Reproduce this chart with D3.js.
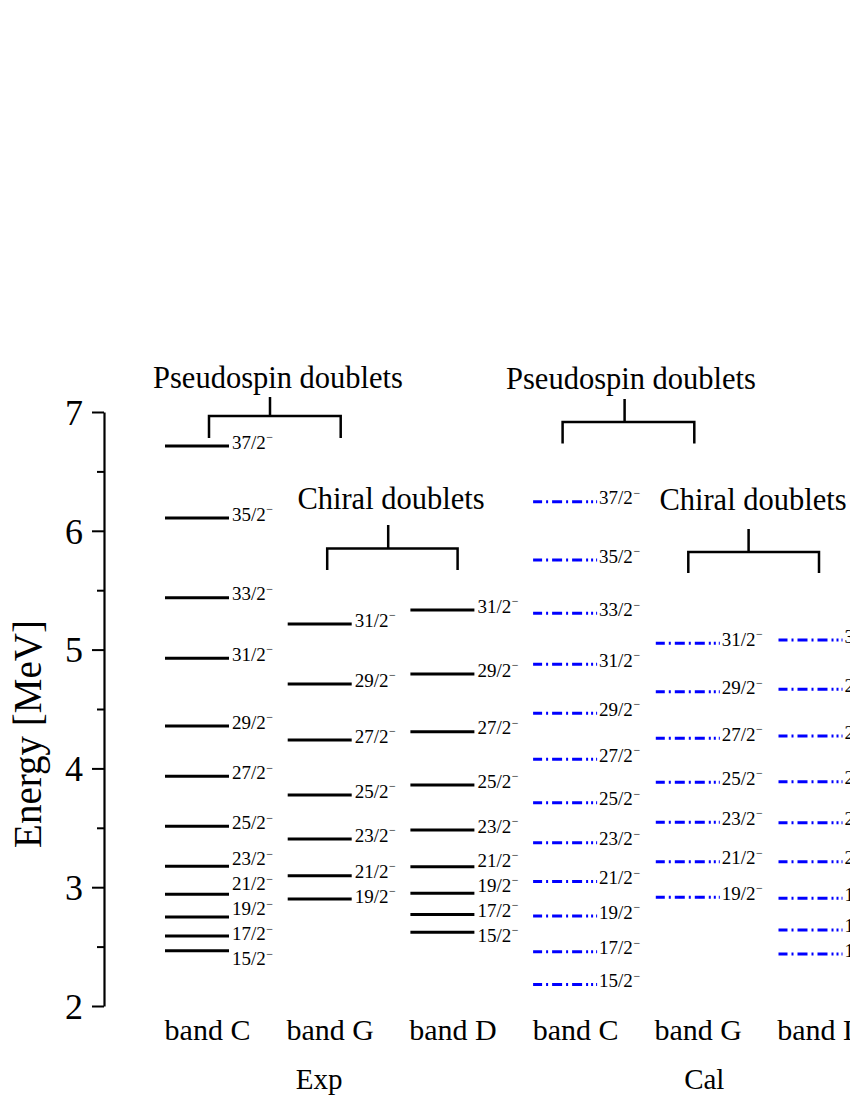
<!DOCTYPE html>
<html>
<head>
<meta charset="utf-8">
<script src="https://cdn.jsdelivr.net/npm/d3@7"></script>
<style>
  html, body { margin: 0; padding: 0; background: #fff; }
  svg { display: block; }
  text { font-family: "Liberation Serif", "Times New Roman", serif; fill: #000; }
</style>
</head>
<body>
<svg id="chart" width="850" height="1100"></svg>
<script>
// ---------------- data ----------------
const bands = ["expC", "expG", "expD", "calC", "calG", "calD"];
const bandNames = ["band C", "band G", "band D", "band C", "band G", "band D"];
const groupNames = ["Exp", "Cal"];

const spinsC = ["15/2","17/2","19/2","21/2","23/2","25/2","27/2","29/2","31/2","33/2","35/2","37/2"];
const spinsG = ["19/2","21/2","23/2","25/2","27/2","29/2","31/2"];
const spinsD = ["15/2","17/2","19/2","21/2","23/2","25/2","27/2","29/2","31/2"];

const expC = [2.466, 2.590, 2.750, 2.940, 3.176, 3.512, 3.933, 4.357, 4.927, 5.437, 6.108, 6.714];
const expG = [2.900, 3.097, 3.406, 3.776, 4.239, 4.710, 5.216];
const expD = [2.620, 2.770, 2.950, 3.172, 3.481, 3.860, 4.309, 4.795, 5.333];
const calC = [2.182, 2.457, 2.758, 3.047, 3.375, 3.711, 4.077, 4.464, 4.876, 5.305, 5.754, 6.245];
const calG = [2.915, 3.215, 3.546, 3.883, 4.253, 4.646, 5.053];
const calD = [2.438, 2.640, 2.906, 3.215, 3.543, 3.888, 4.273, 4.666, 5.081];

const yTicks = [2, 3, 4, 5, 6, 7];
const yMinorTicks = [2.5, 3.5, 4.5, 5.5, 6.5];
const yLabel = "Energy [MeV]";
const doubletPseudo = "Pseudospin doublets";
const doubletChiral = "Chiral doublets";

// ---------------- build ----------------
const series = [
  { band: "expC", spins: spinsC, values: expC, cal: false },
  { band: "expG", spins: spinsG, values: expG, cal: false },
  { band: "expD", spins: spinsD, values: expD, cal: false },
  { band: "calC", spins: spinsC, values: calC, cal: true },
  { band: "calG", spins: spinsG, values: calG, cal: true },
  { band: "calD", spins: spinsD, values: calD, cal: true }
];

const svg = d3.select("#chart");
const y = d3.scaleLinear().domain([2, 7]).range([1006, 412]);
const x = d3.scalePoint().domain(bands).range([196.5, 810]);
const halfW = 31.5;

// y axis
const axisX = 104;
const axisG = svg.append("g").attr("transform", `translate(${axisX},0)`);
axisG.call(d3.axisLeft(y).tickValues(yTicks).tickSize(12).tickSizeOuter(0).tickFormat(d3.format("d")));
axisG.select(".domain").attr("stroke", "#000").attr("stroke-width", 2.2);
axisG.selectAll(".tick line").attr("stroke", "#000").attr("stroke-width", 2);
axisG.selectAll(".tick text")
  .attr("font-family", "Liberation Serif, serif")
  .attr("font-size", 36)
  .attr("x", -21)
  .attr("dy", "0.34em")
  .attr("fill", "#000");
const minorG = svg.append("g").attr("transform", `translate(${axisX},0)`);
minorG.call(d3.axisLeft(y).tickValues(yMinorTicks).tickSize(7).tickSizeOuter(0).tickFormat(""));
minorG.select(".domain").remove();
minorG.selectAll(".tick line").attr("stroke", "#000").attr("stroke-width", 2);

svg.append("text")
  .attr("transform", `translate(41,734) rotate(-90)`)
  .attr("text-anchor", "middle")
  .attr("font-size", 39)
  .text(yLabel);

// levels
const calDash = "9,4,2,4,10,4,2,4,10,4,2,3,2,3,2,20";

function spreadLabels(desired, minGap) {
  let clusters = desired.map(d => ({ items: [d], mean: d.y }));
  let changed = true;
  while (changed) {
    changed = false;
    for (let i = 0; i < clusters.length - 1; i++) {
      const a = clusters[i], b = clusters[i + 1];
      const aBottom = a.mean + (a.items.length - 1) * minGap / 2;
      const bTop = b.mean - (b.items.length - 1) * minGap / 2;
      if (bTop - aBottom < minGap) {
        const items = a.items.concat(b.items);
        const mean = d3.mean(items, d => d.y);
        clusters.splice(i, 2, { items, mean });
        changed = true;
        break;
      }
    }
  }
  clusters.forEach(c => {
    const n = c.items.length;
    c.items.forEach((d, k) => { d.ly = c.mean + (k - (n - 1) / 2) * minGap; });
  });
}

series.forEach(s => {
  const cx = x(s.band);
  const g = svg.append("g");
  const levels = s.values.map((v, i) => ({ v, spin: s.spins[i], y: y(v) - 4 }));
  g.selectAll("line.level").data(levels).join("line")
    .attr("class", "level")
    .attr("x1", cx - halfW).attr("x2", cx + halfW + 1)
    .attr("y1", d => y(d.v)).attr("y2", d => y(d.v))
    .attr("stroke", s.cal ? "#0000ff" : "#000")
    .attr("stroke-width", 3)
    .attr("stroke-dasharray", s.cal ? calDash : null);

  const sorted = levels.slice().sort((a, b) => a.y - b.y);
  spreadLabels(sorted, 25);
  const t = g.selectAll("text.lab").data(levels).join("text")
    .attr("class", "lab")
    .attr("x", cx + halfW + (s.cal ? 3 : 4))
    .attr("y", d => d.ly)
    .attr("dy", "0.35em")
    .attr("font-size", 19);
  t.append("tspan").text(d => d.spin);
  t.append("tspan").attr("font-size", 12).attr("dy", -7.5).attr("dx", 0.5).text("\u2212");
});

// band names
svg.append("g").selectAll("text").data(bands).join("text")
  .attr("x", d => x(d) + 11)
  .attr("y", 1040)
  .attr("text-anchor", "middle")
  .attr("font-size", 30)
  .text((d, i) => bandNames[i]);

// group names
svg.append("text").attr("x", x("expG")).attr("y", 1089)
  .attr("text-anchor", "middle").attr("font-size", 29).text(groupNames[0]);
svg.append("text").attr("x", x("calG") + 17).attr("y", 1089)
  .attr("text-anchor", "middle").attr("font-size", 29).text(groupNames[1]);

// doublet brackets
const brackets = [
  { label: doubletPseudo, left: x("expC") + 12.5, right: x("expG") + 21.5, stem: x("expC") + 73.5, top: 397, bar: 416, leg: 438, tx: 278, ty: 388 },
  { label: doubletChiral, left: x("expG") + 8, right: x("expD") + 15.7, stem: x("expG") + 69, top: 525, bar: 548.5, leg: 570, tx: 391, ty: 509 },
  { label: doubletPseudo, left: x("calC") - 2, right: x("calG") + 7, stem: x("calC") + 60, top: 399, bar: 422, leg: 443.5, tx: 631, ty: 389 },
  { label: doubletChiral, left: x("calG") + 1, right: x("calD") + 9, stem: x("calG") + 61.3, top: 529, bar: 552, leg: 573, tx: 753, ty: 510 }
];
const bg = svg.append("g");
brackets.forEach(b => {
  bg.append("path")
    .attr("d", `M${b.left},${b.leg}V${b.bar}H${b.right}V${b.leg}M${b.stem},${b.bar}V${b.top}`)
    .attr("fill", "none").attr("stroke", "#000").attr("stroke-width", 2.5);
  bg.append("text").attr("x", b.tx).attr("y", b.ty)
    .attr("text-anchor", "middle").attr("font-size", 30.5).text(b.label);
});
</script>
</body>
</html>
